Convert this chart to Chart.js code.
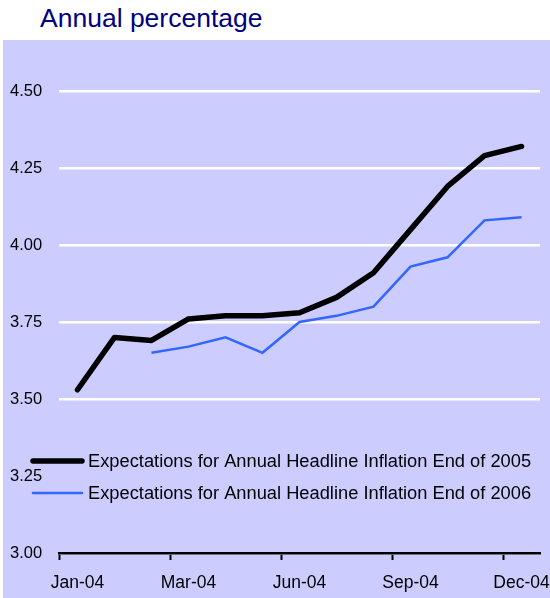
<!DOCTYPE html>
<html>
<head>
<meta charset="utf-8">
<script src="https://cdn.jsdelivr.net/npm/chart.js@4"></script>
<style>
  body { margin: 0; background: #fff; width: 550px; height: 598px; position: relative; overflow: hidden; }
  #title { position: absolute; left: 40px; top: 5px; font: 26.5px "Liberation Sans", Arial, sans-serif; line-height: 26px; color: #000080; }
  #box { position: absolute; left: 3px; top: 40px; width: 547px; height: 558px; background: #ccccff; }
</style>
</head>
<body>
<div id="title">Annual percentage</div>
<div id="box"><canvas id="myChart" width="547" height="558"></canvas></div>
<script>
const dates = ['Jan-04', 'Jan-04', 'Feb-04', 'Mar-04', 'Apr-04', 'May-04', 'Jun-04',
  'Jul-04', 'Aug-04', 'Sep-04', 'Oct-04', 'Nov-04', 'Dec-04']
const end2005 = [3.53, 3.70, 3.69, 3.76, 3.77, 3.77, 3.78, 3.83, 3.91, 4.05, 4.19, 4.29, 4.32]
const end2006 = [null, null, 3.65, 3.67, 3.70, 3.65, 3.75, 3.77, 3.80, 3.93, 3.96, 4.08, 4.09]
const yTicks = [3.00, 3.25, 3.50, 3.75, 4.00, 4.25, 4.50]

const font = '"Liberation Sans", Arial, sans-serif'

// legend sits inside the plot, over the 3.25 gridline
const insideLegend = {
  id: 'insideLegend',
  afterDraw(chart) {
    const { ctx, chartArea } = chart
    const rows = [chartArea.bottom - 92, chartArea.bottom - 60]
    ctx.save()
    ctx.fillStyle = '#ccccff'
    ctx.fillRect(chartArea.left - 2, rows[0] - 15, chartArea.width + 4, 62)
    chart.data.datasets.forEach((ds, i) => {
      const y = rows[i]
      const x0 = chartArea.left - 26
      ctx.strokeStyle = ds.borderColor
      ctx.lineWidth = ds.borderWidth
      ctx.lineCap = 'round'
      ctx.beginPath()
      ctx.moveTo(x0, y)
      ctx.lineTo(x0 + 49, y)
      ctx.stroke()
      ctx.fillStyle = '#000'
      ctx.font = '18.3px ' + font
      ctx.textBaseline = 'middle'
      ctx.textAlign = 'left'
      ctx.fillText(ds.label, x0 + 55, y + 1)
    })
    ctx.restore()
  }
}

new Chart(document.getElementById('myChart'), {
  type: 'line',
  data: {
    labels: dates,
    datasets: [{
      label: 'Expectations for Annual Headline Inflation End of 2005',
      data: end2005,
      borderColor: '#000000',
      borderWidth: 5.5,
      borderJoinStyle: 'round',
      borderCapStyle: 'round',
      pointRadius: 0,
      tension: 0
    }, {
      label: 'Expectations for Annual Headline Inflation End of 2006',
      data: end2006,
      borderColor: '#3366ff',
      borderWidth: 2.5,
      pointRadius: 0,
      tension: 0
    }]
  },
  options: {
    responsive: false,
    animation: false,
    devicePixelRatio: 1,
    layout: { padding: { left: 7, top: 51, right: 10, bottom: 0 } },
    plugins: { legend: { display: false }, tooltip: { enabled: false } },
    scales: {
      x: {
        offset: true,
        afterFit: s => { s.height = 45; s.paddingLeft = 0; s.paddingRight = 0 },
        border: { color: '#000', width: 2.5 },
        grid: {
          offset: true,
          drawOnChartArea: false,
          drawTicks: true,
          tickLength: 7,
          tickWidth: 2,
          tickColor: c => c.index % 3 === 0 ? '#000' : 'rgba(0,0,0,0)'
        },
        ticks: {
          autoSkip: false,
          maxRotation: 0,
          padding: 13,
          color: '#000',
          font: { family: font, size: 17.5 },
          callback: (v, i) => i % 3 === 0 ? dates[i] : ''
        }
      },
      y: {
        min: 3,
        max: 4.5,
        afterFit: s => { s.width = 49 },
        afterBuildTicks: s => { s.ticks = yTicks.map(v => ({ value: v })) },
        border: { display: false },
        grid: { color: '#ffffff', lineWidth: 2.5, drawTicks: false },
        ticks: {
          crossAlign: 'far',
          color: '#000',
          font: { family: font, size: 16.5 },
          callback: v => v.toFixed(2)
        }
      }
    }
  },
  plugins: [insideLegend]
});
</script>
</body>
</html>
